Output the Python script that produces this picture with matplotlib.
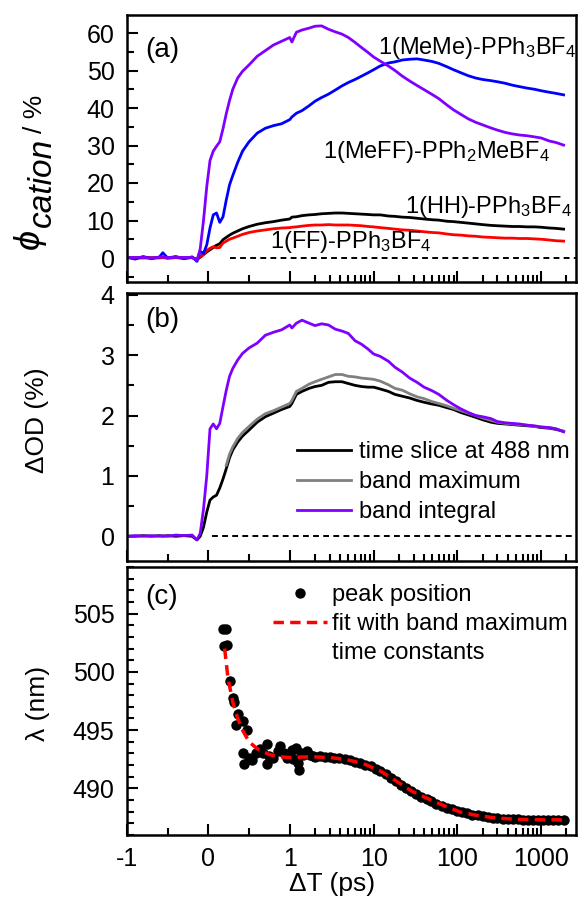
import matplotlib
matplotlib.use('Agg')
import matplotlib.pyplot as plt
import numpy as np
from matplotlib.ticker import FixedLocator, FixedFormatter, MultipleLocator
from matplotlib.lines import Line2D

plt.rcParams['font.family'] = ['Liberation Sans', 'DejaVu Sans']
plt.rcParams['mathtext.fontset'] = 'custom'
plt.rcParams['mathtext.rm'] = 'Liberation Sans'
plt.rcParams['mathtext.it'] = 'Liberation Sans:italic'
plt.rcParams['mathtext.bf'] = 'Liberation Sans:bold'

nan = np.nan

# delay times (ps), shared by panels (a) and (b)
delay = [-1, -0.9, -0.8, -0.7, -0.6, -0.56, -0.5, -0.4, -0.3, -0.2,
         -0.14, -0.1, -0.06, -0.02, 0.02, 0.06, 0.1, 0.14, 0.18, 0.22,
         0.26, 0.3, 0.36, 0.42, 0.5, 0.6, 0.7, 0.8, 0.9, 1.0,
         1.06, 1.2, 1.4, 1.7, 2.0, 2.4, 2.9, 3.5, 4.2, 5,
         6, 7.2, 8.6, 10, 12, 15, 18, 22, 27, 33,
         40, 50, 60, 75, 90, 110, 135, 165, 200, 250,
         300, 370, 450, 550, 680, 830, 1000, 1250, 1500, 1850]

# panel (a): cation yield (%)
meff = [0.2, 0.1, 0.2, 0.0, 0.2, 0.3, 0.1, 0.2, 0.1, 0.2,
        -0.6, 2.5, 10, 19, 26, 28.5, 29.8, 31, 34.5, 38.5,
        42, 45, 48, 49.8, 51.5, 53.8, 55.3, 56.8, 57.8, 58.8,
        57.6, 60.2, 60.8, 61.3, 61.8, 61.9, 61.0, 60.3, 59.7, 58.8,
        57.5, 56.1, 54.8, 53.6, 52.5, 51.2, 50.0, 48.5, 47.2, 46.0,
        44.9, 43.6, 42.5, 40.8, 39.5, 38.3, 37.1, 36.2, 35.5, 34.7,
        34.1, 33.5, 33.1, 32.8, 32.6, 32.3, 32.0, 31.2, 30.8, 30.1]
meme = [0.3, -0.3, 0.4, -0.2, 0.3, 1.4, 0.0, 0.4, -0.2, 0.3,
        -0.9, 1.8, 1.2, 3.5, 8.0, 11.5, 12.0, 9.5, 11.0, 15.5,
        19.5, 22.0, 25.5, 28.5, 31.0, 33.3, 34.6, 35.3, 35.8, 36.9,
        37.6, 38.6, 39.3, 40.6, 41.8, 42.8, 43.7, 44.8, 45.9, 46.8,
        47.6, 48.5, 49.4, 50.2, 51.2, 52.0, 52.3, 52.8, 53.0, 53.1,
        52.8, 52.4, 51.9, 51.0, 50.2, 49.4, 48.6, 48.0, 47.6, 47.3,
        47.0, 46.6, 46.1, 45.7, 45.3, 45.0, 44.6, 44.2, 43.9, 43.5]
hh = [0.1, 0.0, 0.1, 0.0, 0.1, 0.1, 0.0, 0.1, 0.0, 0.1,
      -0.4, 0.2, 0.9, 1.6, 2.2, 2.8, 3.4, 3.8, 4.9, 5.5,
      6.1, 6.6, 7.2, 7.8, 8.4, 9.0, 9.4, 9.7, 10.1, 10.4,
      10.9, 11.0, 11.3, 11.5, 11.6, 11.8, 11.9, 12.0, 12.0, 11.9,
      11.8, 11.7, 11.6, 11.5, 11.5, 11.2, 11.1, 10.9, 10.8, 10.6,
      10.4, 10.2, 10.1, 9.8, 9.7, 9.5, 9.3, 9.1, 8.9, 8.7,
      8.6, 8.5, 8.4, 8.4, 8.3, 8.3, 8.2, 8.0, 7.9, 7.7]
ff = [0.0, 0.1, 0.0, 0.1, 0.0, 0.1, 0.0, 0.1, 0.0, 0.1,
      -0.3, 0.3, 1.0, 2.0, 2.6, 3.0, 2.7, 2.8, 4.0, 4.5,
      5.0, 5.3, 5.8, 6.3, 6.8, 7.2, 7.5, 7.8, 8.0, 8.1,
      8.2, 8.3, 8.5, 8.7, 8.8, 8.8, 8.9, 8.8, 8.8, 8.8,
      8.7, 8.6, 8.4, 8.3, 8.1, 7.9, 7.7, 7.5, 7.4, 7.2,
      7.0, 6.8, 6.7, 6.4, 6.2, 6.1, 5.9, 5.8, 5.6, 5.5,
      5.4, 5.3, 5.3, 5.2, 5.2, 5.1, 5.0, 4.8, 4.6, 4.5]

# panel (b): delta OD (%)
band_integral = [0.0, 0.01, 0.0, 0.01, 0.0, 0.01, 0.0, 0.02, 0.01, 0.02,
                 -0.06, 0.05, 0.45, 1.0, 1.78, 1.86, 1.78, 1.87, 2.15, 2.42,
                 2.65, 2.78, 2.92, 3.03, 3.12, 3.2, 3.33, 3.38, 3.42, 3.5,
                 3.45, 3.53, 3.58, 3.53, 3.49, 3.52, 3.5, 3.43, 3.4, 3.36,
                 3.24, 3.18, 3.1, 3.02, 2.98, 2.9, 2.8, 2.72, 2.62, 2.55,
                 2.47, 2.41, 2.35, 2.25, 2.18, 2.11, 2.05, 2.0, 1.98, 1.95,
                 1.9, 1.88, 1.87, 1.86, 1.84, 1.83, 1.81, 1.8, 1.78, 1.73]
slice_488 = [0.0, 0.0, 0.01, 0.0, 0.01, 0.0, 0.01, 0.0, 0.01, 0.0,
             -0.06, 0.0, 0.15, 0.4, 0.6, 0.65, 0.68, 0.8, 0.95, 1.12,
             1.3, 1.43, 1.56, 1.66, 1.76, 1.89, 1.98, 2.04, 2.1, 2.15,
             2.2, 2.35, 2.4, 2.45, 2.48, 2.5, 2.55, 2.56, 2.56, 2.53,
             2.5, 2.48, 2.47, 2.47, 2.44, 2.4, 2.35, 2.32, 2.29, 2.25,
             2.22, 2.19, 2.17, 2.13, 2.1, 2.05, 2.01, 1.97, 1.93, 1.89,
             1.87, 1.86, 1.85, 1.84, 1.83, 1.82, 1.8, 1.79, 1.77, 1.74]
band_max = [nan, nan, nan, nan, nan, nan, nan, nan, nan, nan,
            nan, nan, nan, nan, nan, nan, nan, nan, nan, 1.18,
            1.36, 1.48, 1.62, 1.72, 1.82, 1.94, 2.03, 2.08, 2.14, 2.2,
            2.25, 2.4, 2.45, 2.52, 2.56, 2.6, 2.64, 2.68, 2.68, 2.65,
            2.64, 2.62, 2.61, 2.6, 2.57, 2.51, 2.45, 2.42, 2.36, 2.31,
            2.28, 2.23, 2.2, 2.16, 2.12, 2.08, 2.04, 2.0, 1.96, 1.92,
            1.89, 1.87, 1.86, 1.85, 1.84, 1.82, 1.81, 1.8, 1.78, 1.74]

# panel (c): peak position (nm) and fit
peak_t = [0.18, 0.22, 0.19, 0.23, 0.27, 0.3, 0.31, 0.34, 0.36, 0.42,
          0.47, 0.43, 0.44, 0.5, 0.54, 0.58, 0.63, 0.67, 0.72, 0.72,
          0.75, 0.8, 0.85, 0.88, 0.93, 0.96, 1.0, 1.05, 1.1, 1.18,
          1.25, 1.3, 1.35, 1.45, 1.6, 1.75, 1.9, 2.0, 2.3, 2.6,
          3.0, 3.4, 3.9, 4.5, 5.2, 6.0, 6.9, 8.0, 9.2, 10.6,
          12, 14, 16, 18.5, 21, 24.5, 28, 32, 37, 43,
          49, 56, 65, 75, 86, 100, 115, 130, 150, 175,
          200, 230, 265, 300, 350, 400, 460, 530, 600, 700,
          800, 920, 1060, 1220, 1400, 1600, 1850]
peak_lam = [503.7, 503.7, 502.2, 502.3, 499.2, 497.8, 497.4, 495.4, 496.4, 495.8,
            495.0, 493.0, 492.1, 492.6, 492.4, 493.0, 493.4, 493.0, 493.8, 492.1,
            492.8, 492.6, 493.2, 493.6, 493.0, 492.6, 492.8, 493.3, 492.5, 493.5,
            492.2, 491.6, 493.0, 492.9, 493.2, 492.9, 492.8, 492.7, 492.8, 492.7,
            492.7, 492.6, 492.6, 492.5, 492.4, 492.3, 492.2, 492.0, 491.9, 491.7,
            491.5, 491.2, 490.9, 490.6, 490.3, 490.0, 489.8, 489.5, 489.3, 489.1,
            488.9, 488.7, 488.5, 488.35, 488.2, 488.05, 487.95, 487.85, 487.75, 487.7,
            487.6, 487.55, 487.5, 487.45, 487.4, 487.4, 487.35, 487.35, 487.3, 487.3,
            487.3, 487.3, 487.3, 487.3, 487.3, 487.3, 487.3]
fit_t = [0.2, 0.24, 0.3, 0.36, 0.42, 0.5, 0.6, 0.75, 0.9, 1.0,
         1.5, 2, 3, 4.5, 6, 8, 12, 18, 28, 45,
         70, 110, 180, 300, 500, 1000, 1900]
fit_lam = [502.0, 499.5, 497.4, 496.0, 495.0, 494.0, 493.4, 492.9, 492.7, 492.65,
           492.7, 492.7, 492.65, 492.5, 492.3, 492.05, 491.5, 490.7, 489.8, 489.1,
           488.5, 487.95, 487.65, 487.45, 487.35, 487.3, 487.3]

x_major = [-1, 0, 1, 10, 100, 1000]
x_major_labels = ['-1', '0', '1', '10', '100', '1000']

PURPLE = '#8000ff'
K = 1.03  # one decade vs one linear unit


# linear below 1 ps, logarithmic above
def fwd(x):
    x = np.asarray(x, dtype=float)
    return np.where(x <= 1, x, 1 + K * np.log10(np.maximum(x, 1)))


def inv(y):
    y = np.asarray(y, dtype=float)
    return np.where(y <= 1, y, 10 ** ((np.minimum(y, 30) - 1) / K))


def style(ax):
    ax.set_xscale('function', functions=(fwd, inv))
    ax.set_xlim(-1, 2600)
    minor = [-0.5, 0.5] + [m * 10 ** d for d in range(3) for m in range(2, 10)] + [2000]
    ax.xaxis.set_major_locator(FixedLocator(x_major))
    ax.xaxis.set_major_formatter(FixedFormatter(x_major_labels))
    ax.xaxis.set_minor_locator(FixedLocator(minor))
    ax.tick_params(which='both', direction='in', top=False, right=False,
                   labelsize=18, width=1.5)
    ax.tick_params(which='major', length=8)
    ax.tick_params(which='minor', length=5)
    ax.tick_params(axis='y', pad=9)
    ax.tick_params(axis='x', pad=9)
    for s in ax.spines.values():
        s.set_linewidth(1.8)


fig = plt.figure(figsize=(5.8, 9.01), dpi=100)
L, W = 127 / 580, 449 / 580
ax_a = fig.add_axes([L, 1 - 282 / 901, W, 267 / 901])
ax_b = fig.add_axes([L, 1 - 561 / 901, W, 268 / 901])
ax_c = fig.add_axes([L, 1 - 835 / 901, W, 268 / 901])

# (a)
style(ax_a)
ax_a.plot([0.27, 2600], [0, 0], color='k', lw=1.4, dashes=(3, 2.2))
ax_a.plot(delay, hh, color='k', lw=2)
ax_a.plot(delay, ff, color='#ff0000', lw=2)
ax_a.plot(delay, meme, color='#0000ff', lw=2)
ax_a.plot(delay, meff, color=PURPLE, lw=2)
ax_a.set_ylim(-6.4, 64.8)
ax_a.yaxis.set_major_locator(MultipleLocator(10))
ax_a.yaxis.set_minor_locator(MultipleLocator(5))
ax_a.tick_params(labelbottom=False)
ax_a.text(0.04, 0.869, '(a)', transform=ax_a.transAxes, fontsize=20, va='center')
ax_a.text(0.559, 0.854, '1(MeMe)-PPh$_3$BF$_4$', transform=ax_a.transAxes,
          fontsize=17, va='baseline')
ax_a.text(0.437, 0.464, '1(MeFF)-PPh$_2$MeBF$_4$', transform=ax_a.transAxes,
          fontsize=17, va='baseline')
ax_a.text(0.619, 0.258, '1(HH)-PPh$_3$BF$_4$', transform=ax_a.transAxes,
          fontsize=17, va='baseline')
ax_a.text(0.318, 0.127, '1(FF)-PPh$_3$BF$_4$', transform=ax_a.transAxes,
          fontsize=17, va='baseline')
# y label of (a) in three pieces: phi, italic subscript, unit
fig.text(40 / 580, 1 - 241 / 901, r'$\phi$', fontsize=26, rotation=90,
         rotation_mode='anchor', ha='center', va='baseline')
fig.text(51 / 580, 1 - 182 / 901, 'cation', fontsize=24, style='italic',
         rotation=90, rotation_mode='anchor', ha='center', va='baseline')
fig.text(42 / 580, 1 - 114 / 901, '/ %', fontsize=19, rotation=90,
         rotation_mode='anchor', ha='center', va='baseline')

# (b)
style(ax_b)
ax_b.plot([0.05, 2600], [0, 0], color='k', lw=1.4, dashes=(3, 2.2))
ax_b.plot(delay, slice_488, color='k', lw=2, label='time slice at 488 nm')
ax_b.plot(delay, band_max, color='#808080', lw=2, label='band maximum')
ax_b.plot(delay, band_integral, color=PURPLE, lw=2, label='band integral')
ax_b.set_ylim(-0.41, 4.03)
ax_b.yaxis.set_major_locator(MultipleLocator(1))
ax_b.yaxis.set_minor_locator(MultipleLocator(0.5))
ax_b.tick_params(labelbottom=False)
ax_b.text(0.04, 0.899, '(b)', transform=ax_b.transAxes, fontsize=20, va='center')
ax_b.legend(loc='upper left', bbox_to_anchor=(0.379, 0.448), frameon=False,
            fontsize=17, handlelength=2.3, handletextpad=0.3, labelspacing=0.35,
            borderpad=0, borderaxespad=0)
fig.text(37 / 580, 1 - 420 / 901, '\u0394OD (%)', fontsize=19, rotation=90,
         ha='center', va='center')

# (c)
style(ax_c)
dots, = ax_c.plot(peak_t, peak_lam, 'o', color='k', ms=7.5, mew=0)
fit, = ax_c.plot(fit_t, fit_lam, color='#ff0000', lw=2.5, dashes=(3, 1.8))
ax_c.set_ylim(486, 509)
ax_c.yaxis.set_major_locator(MultipleLocator(5))
ax_c.yaxis.set_minor_locator(MultipleLocator(1))
ax_c.text(0.04, 0.888, '(c)', transform=ax_c.transAxes, fontsize=20, va='center')
blank = Line2D([], [], color='none')
ax_c.legend([dots, fit, blank],
            ['peak position', 'fit with band maximum', 'time constants'],
            loc='upper left', bbox_to_anchor=(0.325, 0.935), frameon=False,
            fontsize=17, handlelength=2.3, handletextpad=0.2, labelspacing=0.28,
            borderpad=0, borderaxespad=0)
fig.text(38 / 580, 1 - 703 / 901, '\u03bb (nm)', fontsize=19, rotation=90,
         ha='center', va='center')
fig.text(332 / 580, 1 - 884 / 901, '\u0394T (ps)', fontsize=19,
         ha='center', va='center')

fig.savefig('out.png', dpi=100)
